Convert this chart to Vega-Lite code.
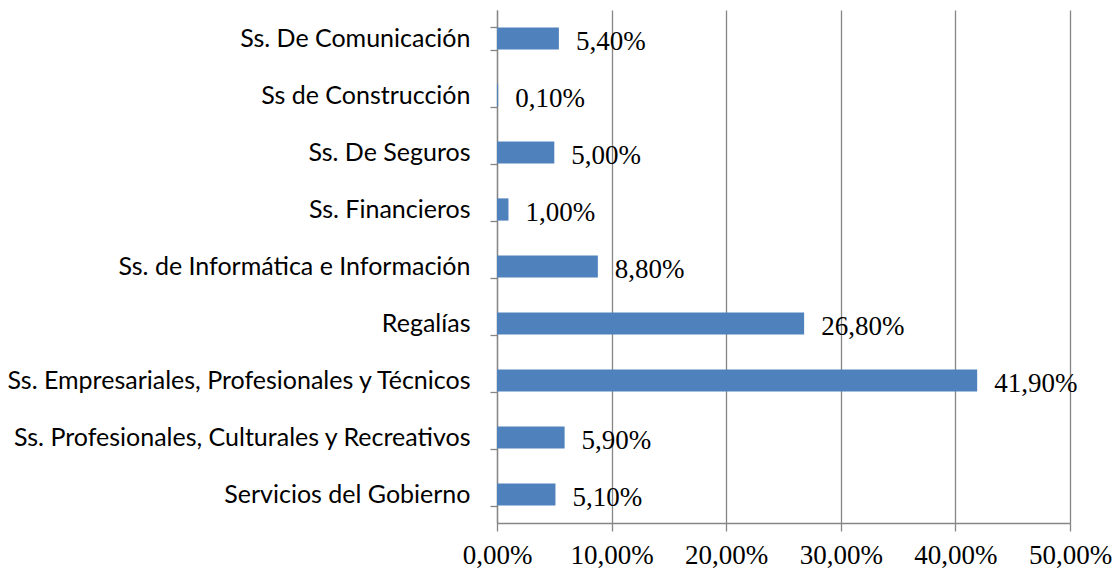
{
  "$schema": "https://vega.github.io/schema/vega-lite/v6.json",
  "autosize": "none",
  "padding": {"left": 497, "top": 10, "right": 47, "bottom": 48},
  "width": 573,
  "height": 513,
  "background": "white",
  "config": {
    "view": {"stroke": null},
    "locale": {"number": {"decimal": ",", "thousands": ".", "grouping": [3], "currency": ["", " €"]}}
  },
  "data": {
    "values": [
      {"categoria": "Ss. De Comunicación", "valor": 0.054},
      {"categoria": "Ss de Construcción", "valor": 0.001},
      {"categoria": "Ss. De Seguros", "valor": 0.05},
      {"categoria": "Ss. Financieros", "valor": 0.01},
      {"categoria": "Ss. de Informática e Información", "valor": 0.088},
      {"categoria": "Regalías", "valor": 0.268},
      {"categoria": "Ss. Empresariales, Profesionales y Técnicos", "valor": 0.419},
      {"categoria": "Ss. Profesionales, Culturales y Recreativos", "valor": 0.059},
      {"categoria": "Servicios del Gobierno", "valor": 0.051}
    ]
  },
  "encoding": {
    "y": {
      "field": "categoria",
      "type": "nominal",
      "sort": null,
      "scale": {"paddingInner": 0.61, "paddingOuter": 0.305},
      "axis": {
        "title": null,
        "tickBand": "extent",
        "domainColor": "#868686",
        "domainWidth": 1.3,
        "tickColor": "#868686",
        "tickWidth": 1.3,
        "tickSize": 7,
        "labelPadding": 20,
        "labelFont": "Lato",
        "labelFontSize": 25,
        "labelColor": "#000000",
        "labelLimit": 600,
        "labelOverlap": false,
        "grid": false
      }
    },
    "x": {
      "field": "valor",
      "type": "quantitative",
      "scale": {"domain": [0, 0.5], "nice": false},
      "axis": {
        "title": null,
        "format": ".2%",
        "values": [0, 0.1, 0.2, 0.3, 0.4, 0.5],
        "grid": true,
        "gridColor": "#868686",
        "gridWidth": 1.3,
        "domainColor": "#868686",
        "domainWidth": 1.3,
        "tickColor": "#868686",
        "tickWidth": 1.3,
        "tickSize": 8,
        "labelPadding": 11,
        "labelOverlap": false,
        "labelFlush": false,
        "labelFont": "Liberation Serif",
        "labelFontSize": 27,
        "labelColor": "#000000"
      }
    }
  },
  "layer": [
    {"mark": {"type": "bar", "color": "#4F81BD"}},
    {
      "mark": {"type": "text", "align": "left", "baseline": "middle", "dx": 17, "dy": 3, "font": "Liberation Serif", "fontSize": 27, "color": "#000000"},
      "encoding": {"text": {"field": "valor", "type": "quantitative", "format": ".2%"}}
    }
  ]
}
